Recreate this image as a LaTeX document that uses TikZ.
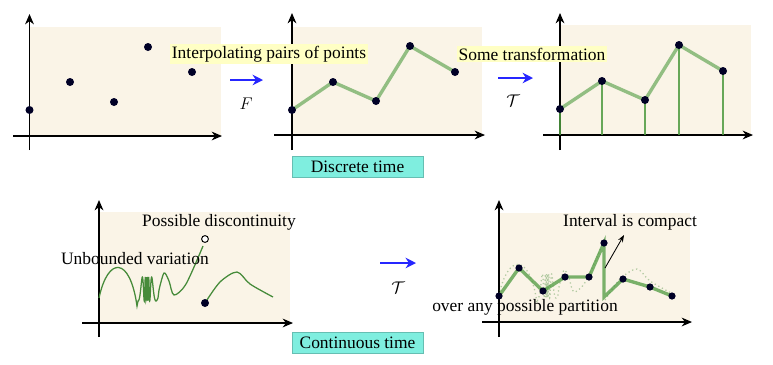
\documentclass[tikz,border=0pt]{standalone}
\usepackage{amsmath,amssymb}
\usepackage{xcolor}
\usepackage{fontspec}
\setmainfont{Liberation Serif}
\usetikzlibrary{arrows.meta,positioning}

\definecolor{paper}{HTML}{FAF4E7}
\definecolor{note}{HTML}{FFFFC4}
\definecolor{tealbox}{HTML}{7FEEDF}
\definecolor{curvegreen}{HTML}{4E9A40}

% rough path with a jump, reused in the last panel
\newcommand{\wiggletrace}{(99,298) .. controls (108,256) and (130,256) .. (137,306)
  -- plot[domain=138:158, samples=160] (\x, {289+12*sin(3000/(abs(\x-147)+2)+177)})
  -- plot[smooth] coordinates {(159,290) (164,273) (169,281) (174,295) (186,284) (203,246)}}
\newcommand{\jumptrace}{plot[smooth] coordinates {(205,303) (220,282) (237,272) (250,284) (273,297)}}

\begin{document}
\begin{tikzpicture}[
    x=0.025cm, y=-0.025cm,
    font=\fontsize{12.4}{15}\selectfont,
    pt/.style={circle, fill=black!85!blue, inner sep=0pt, minimum size=0.2cm},
    hole/.style={circle, draw=black, fill=white, line width=0.7pt,
                 inner sep=0pt, minimum size=0.17cm},
    tag/.style={fill=note, inner sep=1.5pt},
    band/.style={fill=tealbox, draw=tealbox!80!black, line width=0.4pt,
                 minimum width=3.275cm, minimum height=0.5cm},
    axis/.style={-{Stealth[length=2.6mm, width=2.2mm]}, line width=0.8pt},
    link/.style={curvegreen, line width=2.4pt, opacity=0.6, line cap=round},
    stem/.style={curvegreen, line width=1.8pt, opacity=0.85},
    wig/.style={curvegreen!90!black, line width=0.9pt},
    push/.style={blue!85, line width=1.8pt, -{Stealth[length=2.6mm, width=2.6mm]}}
]
\useasboundingbox (0,0) rectangle (773,364);

% Scattered points
\fill[paper] (30,27) rectangle (221,136);
\draw[axis] (13,136) -- (222,136);
\draw[axis] (29.5,150) -- (29.5,14);
\node[pt] (a1) at (29.5,110) {};
\node[pt] (a2) at (70,82) {};
\node[pt] (a3) at (114,102) {};
\node[pt] (a4) at (148,47) {};
\node[pt] (a5) at (192,72) {};

% Interpolated points
\fill[paper] (292,27) rectangle (482,135);
\draw[axis] (274,135) -- (485,135);
\draw[axis] (292,150) -- (292,13);
\coordinate (b1) at (292,110);
\coordinate (b2) at (333,82);
\coordinate (b3) at (376,101);
\coordinate (b4) at (410,46);
\coordinate (b5) at (455,72);
\draw[link] (b1) -- (b2) -- (b3) -- (b4) -- (b5);
\foreach \p in {b1,b2,b3,b4,b5}
    \node[pt] (\p dot) at (\p) {};

% Transformed points
\fill[paper] (560,25) rectangle (751,135);
\draw[axis] (543,135) -- (753,135);
\draw[axis] (560,150) -- (560,13);
\coordinate (xc) at (560,135);
\coordinate (c1) at (560,109);
\coordinate (c2) at (602,81);
\coordinate (c3) at (645,100);
\coordinate (c4) at (679,45);
\coordinate (c5) at (723,71);
\draw[link] (c1) -- (c2) -- (c3) -- (c4) -- (c5);
\foreach \p in {c1,c2,c3,c4,c5}
    \draw[stem] (\p) -- (\p |- xc);
\foreach \p in {c1,c2,c3,c4,c5}
    \node[pt] (\p dot) at (\p) {};

% labels and maps, top row
\node[tag] (interp) at (269,54) {Interpolating pairs of points};
\node[tag] (trans) at (532,54) {Some transformation};
\coordinate (f1) at (230,80);
\coordinate (f2) at (263,80);
\draw[push] (f1) -- (f2);
\node (F) at (246,104) {$F$};
\coordinate (t1) at (498,78);
\coordinate (t2) at (533,78);
\draw[push] (t1) -- (t2);
\node (T1) at (513,101) {$\mathcal{T}$};
\node[band] (discrete) at (357.5,167) {Discrete time};

% Rough path
\fill[paper] (99,212) rectangle (290,323);
\draw[axis] (82,323) -- (293,323);
\draw[axis] (99,337) -- (99,200);
\draw[wig] \wiggletrace;
\draw[wig] \jumptrace;
\node[hole] (open) at (205,239) {};
\node[pt] (closed) at (205,303) {};
\node (disc) at (219,222) {Possible discontinuity};
\node (unb) at (135,259) {Unbounded variation};

% Partition of the rough path
\fill[paper] (499,213) rectangle (690,322);
\draw[axis] (482,322) -- (692,322);
\draw[axis] (499,337) -- (499,200);
\begin{scope}[shift={(400,-3)}]
\draw[wig, dotted, opacity=0.4] \wiggletrace;
\draw[wig, dotted, opacity=0.4] \jumptrace;
\end{scope}
\coordinate (e1) at (499,296);
\coordinate (e2) at (519,268);
\coordinate (e3) at (543,291);
\coordinate (e4) at (565,277);
\coordinate (e5) at (589,277);
\coordinate (e6) at (604,243);
\coordinate (jump) at (604,297);
\coordinate (e7) at (623,279);
\coordinate (e8) at (650,287);
\coordinate (e9) at (672,296);
\draw[link, opacity=0.75] (e1) -- (e2) -- (e3) -- (e4) -- (e5) -- (e6) -- (jump) -- (e7) -- (e8) -- (e9);
\foreach \p in {e1,e2,e3,e4,e5,e6,e7,e8,e9}
    \node[pt, minimum size=0.18cm] (\p dot) at (\p) {};
\node (compact) at (630,222) {Interval is compact};
\node (part) at (525,307) {over any possible partition};
\coordinate (gap) at (605,268);
\coordinate (gaptip) at (624,235);
\draw[-{Stealth[length=1.8mm]}, line width=0.6pt] (gap) -- (gaptip);

% map, bottom row
\coordinate (u1) at (380,263);
\coordinate (u2) at (416,263);
\draw[push] (u1) -- (u2);
\node (T2) at (398,288) {$\mathcal{T}$};
\node[band] (continuous) at (357.5,343) {Continuous time};
\end{tikzpicture}
\end{document}
